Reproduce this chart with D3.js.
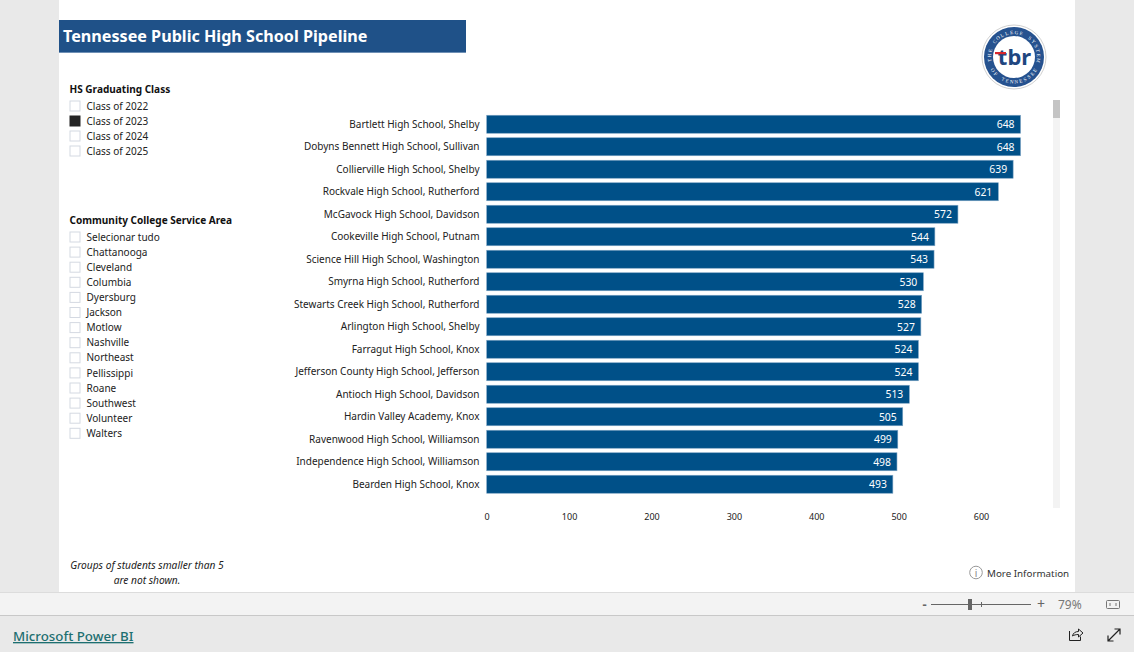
<!DOCTYPE html>
<html><head><meta charset="utf-8">
<script src="https://cdn.jsdelivr.net/npm/d3@7"></script>
<style>
html,body{margin:0;padding:0;background:#e9e9e9;overflow:hidden}
svg{display:block}
text{font-family:"Noto Sans","Open Sans",sans-serif;fill:#111}
</style></head><body>
<svg id="c" width="1134" height="652"></svg>
<script>
const schools=["Bartlett High School, Shelby","Dobyns Bennett High School, Sullivan","Collierville High School, Shelby","Rockvale High School, Rutherford","McGavock High School, Davidson","Cookeville High School, Putnam","Science Hill High School, Washington","Smyrna High School, Rutherford","Stewarts Creek High School, Rutherford","Arlington High School, Shelby","Farragut High School, Knox","Jefferson County High School, Jefferson","Antioch High School, Davidson","Hardin Valley Academy, Knox","Ravenwood High School, Williamson","Independence High School, Williamson","Bearden High School, Knox"];
const students=[648,648,639,621,572,544,543,530,528,527,524,524,513,505,499,498,493];
const xTicks=[0,100,200,300,400,500,600];
const classes=["Class of 2022","Class of 2023","Class of 2024","Class of 2025"];
const selectedClass="Class of 2023";
const areas=["Selecionar tudo","Chattanooga","Cleveland","Columbia","Dyersburg","Jackson","Motlow","Nashville","Northeast","Pellissippi","Roane","Southwest","Volunteer","Walters"];

const svg=d3.select("#c");
const FS=10;
svg.append("rect").attr("x",0).attr("y",0).attr("width",1134).attr("height",652).attr("fill","#e9e9e9");
svg.append("rect").attr("x",59).attr("y",0).attr("width",1016).attr("height",592).attr("fill","#fff");
svg.append("rect").attr("x",0).attr("y",592).attr("width",1134).attr("height",24).attr("fill","#f3f3f3");
svg.append("line").attr("x1",0).attr("x2",1134).attr("y1",592.5).attr("y2",592.5).attr("stroke","#dcdcdc");
svg.append("line").attr("x1",0).attr("x2",1134).attr("y1",615.5).attr("y2",615.5).attr("stroke","#c8c8c8");
svg.append("rect").attr("x",59).attr("y",20).attr("width",407).attr("height",32.5).attr("fill","#1f5188");
svg.append("line").attr("x1",59).attr("x2",466).attr("y1",52.5).attr("y2",52.5).attr("stroke","#6f90b5");
svg.append("text").attr("x",63).attr("y",42).attr("font-size",16.15).attr("font-weight",700).style("fill","#fff").text("Tennessee Public High School Pipeline");

function slicer(title,titleY,items,firstY,step,selected){
  svg.append("text").attr("x",69.5).attr("y",titleY).attr("font-size",10.05).attr("font-weight",700).text(title);
  const g=svg.append("g").selectAll("g").data(items).join("g").attr("transform",(d,i)=>`translate(0,${firstY+i*step})`);
  g.append("rect").attr("x",70).attr("y",-5).attr("width",10).attr("height",10)
    .attr("fill",d=>d===selected?"#252525":"#fff").attr("stroke",d=>d===selected?"#252525":"#d4d9e2").attr("stroke-width",1);
  g.append("text").attr("x",86.5).attr("y",3.6).attr("font-size",FS).style("fill","#222").text(d=>d);
}
slicer("HS Graduating Class",93,classes,106,15,selectedClass);
slicer("Community College Service Area",224,areas,237,15.1,null);

const x=d3.scaleLinear().domain([0,600]).range([486.7,981]);
const y=d3.scaleBand().domain(schools).range([113,495.5]).paddingInner(0.2).paddingOuter(0.1);
const rows=svg.append("g").selectAll("g").data(schools).join("g");
rows.append("rect").attr("x",x(0)).attr("y",d=>y(d)).attr("height",y.bandwidth())
  .attr("width",(d,i)=>x(students[i])-x(0)).attr("fill","#005088").attr("stroke","#7ba3c4").attr("stroke-width",0.6);
rows.append("text").attr("x",479.5).attr("y",d=>y(d)+y.bandwidth()/2+3.6).attr("text-anchor","end").attr("font-size",FS).style("fill","#222").text(d=>d);
rows.append("text").attr("x",(d,i)=>x(students[i])-6).attr("y",d=>y(d)+y.bandwidth()/2+3.8).attr("text-anchor","end").attr("font-size",10.4).style("fill","#fff").text((d,i)=>students[i]);
const ax=svg.append("g").attr("transform","translate(0,507)").call(d3.axisBottom(x).tickValues(xTicks).tickSize(0).tickPadding(0));
ax.select(".domain").remove();
ax.selectAll("text").attr("font-size",9).attr("dy",0).attr("y",13).style("font-family",'"Noto Sans",sans-serif').style("fill","#222");

svg.append("rect").attr("x",1053).attr("y",100).attr("width",7).attr("height",408).attr("fill","#f3f3f3");
svg.append("rect").attr("x",1053).attr("y",100).attr("width",7).attr("height",18).attr("fill","#c4c4c4");

const note=svg.append("text").attr("text-anchor","middle").attr("font-size",10.2).attr("font-style","italic").style("fill","#222");
note.append("tspan").attr("x",147).attr("y",569).text("Groups of students smaller than 5");
note.append("tspan").attr("x",147).attr("y",584).text("are not shown.");

svg.append("circle").attr("cx",976).attr("cy",572.5).attr("r",6.3).attr("fill","#fff").attr("stroke","#999").attr("stroke-width",1);
svg.append("text").attr("x",976).attr("y",576.5).attr("text-anchor","middle").attr("font-size",10).style("fill","#888").text("i");
svg.append("text").attr("x",987).attr("y",577).attr("font-size",9.8).style("fill","#333").text("More Information");

// logo: ring letters placed one by one so each has its own box
const L=svg.append("g").attr("transform","translate(1014,57)");
L.append("circle").attr("r",32).attr("fill","#fff").attr("stroke","#d0d0d0").attr("stroke-width",1);
L.append("circle").attr("r",30).attr("fill","#26528f");
L.append("circle").attr("r",21).attr("fill","#fff");
function ring(str,stepDeg,radius,bottom){
  const chars=str.split("");
  const mid=(chars.length-1)/2;
  L.append("g").selectAll("text").data(chars).join("text")
    .attr("text-anchor","middle").attr("font-size",5).style("fill","#fff").style("font-family","'Liberation Serif',serif")
    .attr("transform",(c,i)=>bottom
      ?`rotate(${-(i-mid)*stepDeg}) translate(0,${radius})`
      :`rotate(${(i-mid)*stepDeg}) translate(0,${-radius})`)
    .text(c=>c);
}
ring("THE COLLEGE SYSTEM",11.5,23,false);
ring("OF TENNESSEE",10.5,26.5,true);
L.append("text").attr("x",0.5).attr("y",8).attr("text-anchor","middle").attr("font-size",22).attr("font-weight",700).style("fill","#1f4680").text("tbr");
L.append("rect").attr("x",-19).attr("y",-5).attr("width",11).attr("height",2.2).attr("fill","#d8262c");

const Z="#666";
svg.append("text").attr("x",924.5).attr("y",609).attr("text-anchor","middle").attr("font-size",13).attr("font-weight",700).style("fill",Z).text("-");
svg.append("line").attr("x1",931).attr("x2",1031).attr("y1",604.5).attr("y2",604.5).attr("stroke","#666");
svg.append("line").attr("x1",981.5).attr("x2",981.5).attr("y1",602).attr("y2",607).attr("stroke","#666");
svg.append("rect").attr("x",968).attr("y",599).attr("width",4).attr("height",11).attr("fill","#666");
svg.append("text").attr("x",1041).attr("y",609).attr("text-anchor","middle").attr("font-size",14).style("fill",Z).text("+");
svg.append("text").attr("x",1058).attr("y",609).attr("font-size",12).style("fill","#777").text("79%");
svg.append("rect").attr("x",1106.5).attr("y",600.5).attr("width",13).attr("height",8).attr("rx",1).attr("fill","none").attr("stroke","#777");
svg.append("path").attr("d","M1110 603v3M1116 603v3").attr("stroke","#777").attr("fill","none");

svg.append("text").attr("x",13).attr("y",641).attr("font-size",13.3).attr("font-weight",500).style("fill","#1d6f70").style("text-decoration","underline").text("Microsoft Power BI");
svg.append("path").attr("d","M1069.500 631v9.500h11v-4M1072.500 636c.5-3 3-4.500 6-4.500v-2.500l4.500 4-4.500 4v-2.500c-2.500 0-4.500.5-6 1.500z").attr("fill","none").attr("stroke","#222").attr("stroke-width",1);
svg.append("path").attr("d","M1108 641l12-12M1114.500 629h5.500v5.500M1108 635.500v5.500h5.500").attr("fill","none").attr("stroke","#222").attr("stroke-width",1.2);
</script></body></html>
